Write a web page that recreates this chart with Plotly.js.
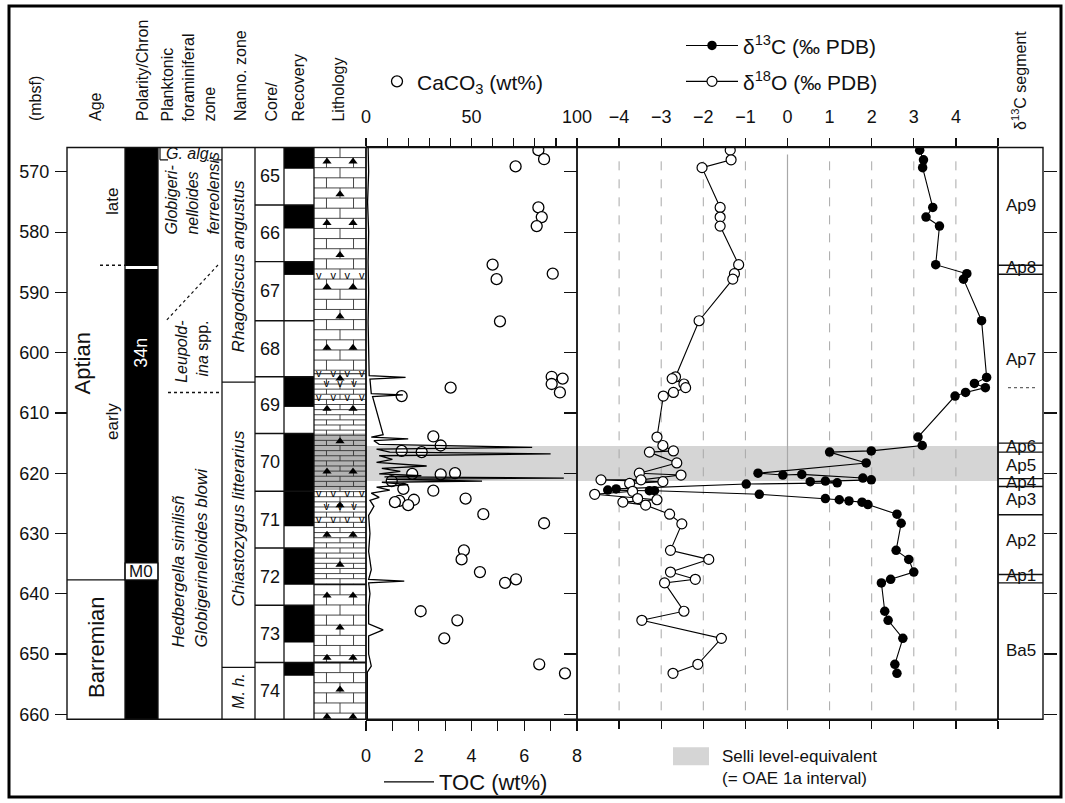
<!DOCTYPE html>
<html><head><meta charset="utf-8">
<script src="https://cdn.plot.ly/plotly-3.0.1.min.js"></script>
<style>html,body{margin:0;padding:0;background:#fff;}#chart{width:1065px;height:803px;}</style>
</head><body><div id="chart"></div>
<script>
// ================= DATA =================
// delta13C (per mil PDB) vs depth (mbsf)
const d13cDepth = [566.4,568.0,569.3,575.9,577.5,579.0,585.4,586.9,587.8,594.7,604.1,605.1,605.8,606.6,607.2,614.0,615.4,616.3,616.5,618.3,620.0,620.3,620.2,620.8,621.1,621.4,621.3,621.6,621.8,622.6,622.8,622.9,622.9,623.5,624.2,624.4,624.6,624.8,625.2,626.8,628.3,632.8,634.3,636.4,637.6,638.2,642.9,644.4,647.4,651.7,653.2];
const d13cValue = [3.14,3.23,3.21,3.45,3.29,3.61,3.52,4.26,4.18,4.61,4.73,4.44,4.70,4.23,3.98,3.10,3.20,1.99,1.00,1.87,-0.70,-0.11,0.34,1.79,1.99,0.54,0.90,1.18,-0.98,-4.07,-4.27,-3.28,-3.16,-0.67,0.90,1.23,1.46,1.77,1.91,2.60,2.70,2.58,2.88,3.00,2.45,2.23,2.31,2.39,2.74,2.55,2.60];
// delta18O (per mil PDB) vs depth (mbsf)
const d18oDepth = [566.4,568.0,569.3,575.9,577.5,579.0,585.4,586.9,587.8,594.7,604.0,604.3,605.2,605.8,606.6,607.2,614.0,615.4,616.3,616.5,618.3,620.0,620.3,621.1,621.1,621.4,621.7,623.0,623.5,624.2,624.4,624.8,625.3,626.8,628.4,632.8,634.3,636.4,637.6,638.2,642.9,644.4,647.4,651.7,653.2];
const d18oValue = [-1.36,-1.34,-2.03,-1.60,-1.60,-1.60,-1.16,-1.26,-1.30,-2.10,-2.66,-2.74,-2.46,-2.42,-2.71,-2.95,-3.10,-2.96,-2.71,-3.28,-2.63,-3.52,-2.53,-3.48,-4.43,-2.96,-3.75,-3.68,-4.58,-3.56,-3.10,-3.91,-3.37,-2.80,-2.51,-2.78,-1.87,-2.78,-2.19,-2.92,-2.46,-3.46,-1.57,-2.13,-2.72];
// CaCO3 (wt%)
const caco3Depth = [566.4,567.9,569.1,575.9,577.5,579.0,585.4,586.9,587.8,594.8,604.0,604.3,605.2,605.8,606.6,607.2,613.9,615.4,616.3,616.5,620.0,620.1,620.2,621.3,622.6,622.9,624.2,624.4,624.6,624.8,625.3,626.8,628.3,632.8,634.3,636.4,637.6,638.2,642.9,644.4,647.4,651.7,653.2];
const caco3Value = [81.7,84.4,70.9,81.7,83.3,80.9,60.0,88.5,61.9,63.5,88.0,93.2,88.0,40.1,91.9,16.9,31.9,35.4,16.9,26.4,42.2,21.9,35.4,12.2,17.7,31.9,47.2,22.7,15.8,13.7,20.0,55.6,84.4,46.4,45.3,54.0,71.1,65.9,25.9,43.3,37.1,82.1,94.3];
// TOC (wt%)
const tocDepth = [565.95,570,575,580,585,590,595,600,603.8,604.1,604.4,606.8,607.0,607.3,613.6,614.0,614.3,614.6,615.2,615.7,616.0,616.5,616.8,617.1,617.7,618.2,618.8,619.2,619.7,620.1,620.4,620.6,620.8,621.0,621.3,621.5,621.9,622.3,622.8,623.3,624.0,624.5,625.5,627.0,630,633,636,637.6,637.9,638.2,640,642,645.0,646.0,647.0,650,652,653,660.8];
const tocValue = [0.08,0.1,0.06,0.1,0.08,0.1,0.08,0.1,0.12,1.5,0.15,0.2,1.4,0.25,0.65,0.2,1.6,0.3,0.5,6.3,0.4,0.9,7.0,0.5,1.0,0.4,2.3,0.6,1.3,0.5,2.1,0.7,7.5,0.8,4.4,0.6,1.6,0.4,0.9,0.2,0.5,0.15,0.3,0.1,0.15,0.1,0.2,0.1,1.45,0.1,0.15,0.1,0.1,0.65,0.1,0.1,0.2,0.05,0.05];

// Core / recovery
const coreLabels = ['65','66','67','68','69','70','71','72','73','74'];
const coreTop    = [565.95,575.5,584.9,594.7,604.0,613.4,623.0,632.4,641.9,651.4];
const coreBase   = [575.5,584.9,594.7,604.0,613.4,623.0,632.4,641.9,651.4,660.83];
const recoveredBase = [569.5,579.4,587.1,594.7,609.0,623.0,628.8,638.5,648.1,653.6];

// Polarity (normal = black)
const normalTop  = [565.95,586.1,637.7];
const normalBase = [585.6,634.9,660.83];

// d13C segments
const segBoundary = [585.5,587.0,615.0,616.5,620.9,622.2,626.9,636.8,638.2];
const segLabels = ['Ap9','Ap8','Ap7','Ap6','Ap5','Ap4','Ap3','Ap2','Ap1','Ba5'];
const segLabelDepth = [575.6,585.9,601.1,615.5,618.8,621.6,624.4,631.2,637.0,649.4];

// Lithology
const lithTop  = [565.95,603.5,638.5,651.4];
const lithBase = [603.5,638.5,651.4,660.83];
const lithKind = ['limestone','marl','limestone','limestone'];
const chertDepth = [568.3,573.7,578.5,583.8,589.1,594.0,599.2,604.3,609.3,614.7,619.7,625.3,630.2,635.2,640.3,645.6,650.6,655.9,660.4];
const chertCount = [2,1,2,1,2,1,2,1,2,1,2,1,2,1,2,1,2,1,2];
const tuffDepth = [587.4,603.5,605.3,607.6,623.5,625.6,627.8];
const tuffCount = [4,4,3,4,4,3,4];

// Selli level equivalent (OAE 1a)
const selliTop = 615.5, selliBase = 621.3;
const greyLithTop = 613.4, greyLithBase = 622.8;

// axis ticks
const depthTicks = [570,580,590,600,610,620,630,640,650,660];
const caLabelTicks = [0,50,100];
const caMinorTicks = [10,20,30,40,60,70,80,90];
const tocLabelTicks = [0,2,4,6,8];
const tocMinorTicks = [1,3,5,7];
const isoLabelTicks = [-4,-3,-2,-1,0,1,2,3,4];
const isoEdgeTicks = [-5,5];

// ================= LAYOUT HELPERS =================
const W = 1065, H = 803;
const px = x => x / W;
const py = y => 1 - y / H;
const DTOP = 565.95, DBOT = 660.83;
const INK = '#111';
const FONT = 'Liberation Sans, Arial, Helvetica, sans-serif';

const shapes = [];
const annotations = [];
function rectP(x0, y0, x1, y1, o) { shapes.push(Object.assign({type:'rect', xref:'paper', yref:'paper', x0:px(x0), x1:px(x1), y0:py(y0), y1:py(y1), line:{color:INK, width:1.3}, fillcolor:'rgba(0,0,0,0)'}, o||{})); }
function rectD(x0, x1, d0, d1, o) { shapes.push(Object.assign({type:'rect', xref:'paper', yref:'y', x0:px(x0), x1:px(x1), y0:d0, y1:d1, line:{width:0}, fillcolor:INK}, o||{})); }
function lineD(x0, x1, d0, d1, o) { shapes.push(Object.assign({type:'line', xref:'paper', yref:'y', x0:px(x0), x1:px(x1), y0:d0, y1:d1, line:{color:INK, width:1.2}}, o||{})); }
function lineP(x0, y0, x1, y1, o) { shapes.push(Object.assign({type:'line', xref:'paper', yref:'paper', x0:px(x0), x1:px(x1), y0:py(y0), y1:py(y1), line:{color:INK, width:1.2}}, o||{})); }
function annP(text, x, y, o) { annotations.push(Object.assign({text, xref:'paper', yref:'paper', x:px(x), y:py(y), showarrow:false, xanchor:'center', yanchor:'middle', font:{size:16, color:INK, family:FONT}}, o||{})); }
function annD(text, x, d, o) { annotations.push(Object.assign({text, xref:'paper', yref:'y', x:px(x), y:d, showarrow:false, xanchor:'center', yanchor:'middle', font:{size:16, color:INK, family:FONT}}, o||{})); }

// column x-positions (px)
const C = {age0:67, pol0:125, pf0:158, nn0:222, core0:255, rec0:284, lit0:314, lit1:366, iso0:577, iso1:998, seg1:1043};

// outer frame
rectP(9, 6, 1061, 800, {line:{color:'#000', width:3}});

// Selli band + grey lithology
rectD(C.lit1, C.iso1, selliTop, selliBase, {fillcolor:'#d5d5d5', layer:'below'});
rectD(C.lit0, C.lit1, greyLithTop, greyLithBase, {fillcolor:'#b3b3b3', layer:'below'});

// isotope grid lines
isoLabelTicks.forEach(v => {
  shapes.push({type:'line', xref:'x3', yref:'paper', x0:v, x1:v, y0:py(713), y1:py(155), layer:'below',
    line: v === 0 ? {color:'#a8a8a8', width:1.2} : {color:'#a8a8a8', width:1, dash:'dash'}});
});

// polarity
normalTop.forEach((t, i) => rectD(C.pol0, C.pf0, t, normalBase[i], {fillcolor:'#000'}));
rectD(C.pol0, C.pf0, 634.9, 637.7, {fillcolor:'#fff', line:{color:INK, width:1.2}});
annD('34n', 141, 600, {textangle:-90, font:{size:18, color:'#fff', family:FONT}});
annD('M0', 141, 636.3, {font:{size:17, color:INK, family:FONT}});

// recovery
coreTop.forEach((t, i) => { if (recoveredBase[i] > t) rectD(C.rec0, C.lit0, t, recoveredBase[i], {fillcolor:'#000'}); });
// core boundaries + labels
coreTop.forEach((t, i) => {
  if (i > 0) lineD(C.core0, C.lit0, t, t, {line:{color:INK, width:1.4}});
  annD(coreLabels[i], 270, (t + coreBase[i]) / 2, {font:{size:18, color:INK, family:FONT}});
});

// Age column
lineD(C.age0, C.pol0, 637.7, 637.7);
lineD(100, C.pol0, 585.5, 585.5, {line:{color:INK, width:1.4, dash:'dot'}});
annD('Aptian', 83, 601.8, {textangle:-90, font:{size:22, color:INK, family:FONT}});
annD('late', 113, 575, {textangle:-90, font:{size:17, color:INK, family:FONT}});
annD('early', 113, 611.5, {textangle:-90, font:{size:17, color:INK, family:FONT}});
annD('Barremian', 97, 649, {textangle:-90, font:{size:22, color:INK, family:FONT}});

// Planktonic foraminiferal zones
lineD(160, 168, 568, 568);
lineD(213, C.nn0, 568, 568);
lineD(160, 160, 566.0, 568);
annD('<i>G. alg.</i>', 189, 566.95, {font:{size:16, color:INK, family:FONT}});
annP('<i>Globigeri-<br>nelloides<br>ferreolensis</i>', 193, 238, {textangle:-90, align:'left', yanchor:'bottom', font:{size:16, color:INK, family:FONT}});
annP('<i>Leupold-<br>ina</i> spp.', 192, 320, {textangle:-90, align:'right', yanchor:'top', font:{size:16, color:INK, family:FONT}});
annP('<i>Hedbergella similisñ<br>Globigerinelloides blowi</i>', 190, 652, {textangle:-90, align:'left', yanchor:'bottom', font:{size:17, color:INK, family:FONT}});
lineP(218, 266, 166, 322, {line:{color:INK, width:1.2, dash:'dot'}});
lineP(168, 394, 219, 394, {line:{color:INK, width:1.4, dash:'dot'}});

// Nannofossil zones
lineD(C.nn0, C.core0, 604.9, 604.9);
lineD(C.nn0, C.core0, 652.2, 652.2);
annD('<i>Rhagodiscus angustus</i>', 238.5, 585.6, {textangle:-90, font:{size:17, color:INK, family:FONT}});
annD('<i>Chiastozygus litterarius</i>', 238.5, 627.6, {textangle:-90, font:{size:17, color:INK, family:FONT}});
annD('<i>M. h.</i>', 238.5, 656.2, {textangle:-90, font:{size:16, color:INK, family:FONT}});

// lithology unit boundaries
lithTop.forEach((t, i) => { if (i > 0) lineD(C.lit0, C.lit1, t, t, {line:{color:INK, width: t === 651.4 ? 2 : 1.2}}); });

// column frames
rectP(C.age0, 148, C.lit1, 722, {line:{color:INK, width:1.4}});
[C.pol0, C.pf0, C.nn0, C.core0, C.rec0, C.lit0].forEach(x => lineP(x, 148, x, 722, {line:{color:INK, width:1.3}}));
// panels
rectP(C.lit1, 148, C.iso0, 722, {line:{color:INK, width:1.4}});
rectP(C.iso0, 148, C.iso1, 722, {line:{color:INK, width:1.4}});
rectP(C.iso1, 148, C.seg1, 722, {line:{color:INK, width:1.4}});

// d13C segments
segBoundary.forEach(b => lineD(C.iso1, C.seg1, b, b, {line:{color:INK, width:1.4}}));
lineD(1008, 1036, 605.8, 605.8, {line:{color:'#666', width:1.2, dash:'dot'}});
segLabels.forEach((s, i) => annD(s, 1020.5, segLabelDepth[i], {font:{size:17, color:INK, family:FONT}}));

// header labels
const hdr = (t, x, o) => annP(t, x, 124, Object.assign({textangle:-90, yanchor:'bottom', font:{size:16, color:INK, family:FONT}}, o||{}));
hdr('(mbsf)', 35);
hdr('Age', 95);
hdr('Polarity/Chron', 142);
hdr('Planktonic<br>foraminiferal<br>zone', 189, {align:'left'});
hdr('Nanno. zone', 240);
hdr('Core/', 272);
hdr('Recovery', 299);
hdr('Lithology', 339);
annP('δ<sup>13</sup>C segment', 1019, 133, {textangle:-90, yanchor:'bottom'});

// Selli legend
rectP(673, 750, 709, 768, {fillcolor:'#d5d5d5', line:{width:0}});
annP('Selli level-equivalent<br>(= OAE 1a interval)', 720, 770, {xanchor:'left', align:'left', font:{size:17, color:INK, family:FONT}});

// ================= TRACES =================
const traces = [];
// lithology texture (unit 0-1 x scale spanning the lithology column)
const lx = [], ly = [];
function seg(x0, x1, d0, d1) { lx.push(x0, x1, null); ly.push(d0, d1, null); }
lithTop.forEach((t, i) => {
  const b = lithBase[i];
  const h = lithKind[i] === 'marl' ? 0.85 : 1.68;
  let k = 0;
  for (let d = t; d < b - 0.05; d += h, k++) {
    const e = Math.min(d + h, b);
    if (d > t + 0.01) seg(0, 1, d, d);
    if (k % 2 === 0) seg(0.5, 0.5, d, e); else { seg(0.24, 0.24, d, e); seg(0.76, 0.76, d, e); }
  }
});
traces.push({type:'scatter', mode:'lines', x:lx, y:ly, xaxis:'x4', yaxis:'y', line:{color:'#333', width:0.9}, hoverinfo:'skip', showlegend:false, connectgaps:false});
// chert triangles
const cx = [], cy = [];
chertDepth.forEach((d, i) => { if (chertCount[i] === 2) { cx.push(0.25, 0.75); cy.push(d, d); } else { cx.push(0.5); cy.push(d); } });
traces.push({type:'scatter', mode:'markers', x:cx, y:cy, xaxis:'x4', yaxis:'y', marker:{symbol:'triangle-up', size:8, color:'#000'}, hoverinfo:'skip', showlegend:false});
// volcanic ash marks
const vx = [], vy = [];
tuffDepth.forEach((d, i) => { const xs = tuffCount[i] === 4 ? [0.09, 0.37, 0.64, 0.92] : [0.24, 0.5, 0.77]; xs.forEach(x => { vx.push(x); vy.push(d); }); });
traces.push({type:'scatter', mode:'text', x:vx, y:vy, text:vx.map(() => 'v'), xaxis:'x4', yaxis:'y', textfont:{size:11, color:'#000', family:FONT}, hoverinfo:'skip', showlegend:false});

// TOC
traces.push({type:'scatter', mode:'lines', name:'TOC (wt%)', x:tocValue, y:tocDepth, xaxis:'x2', yaxis:'y', line:{color:'#000', width:1.3}, legend:'legend4', hoverinfo:'skip'});
// CaCO3
traces.push({type:'scatter', mode:'markers', name:'CaCO<sub>3</sub> (wt%)', x:caco3Value, y:caco3Depth, xaxis:'x', yaxis:'y', marker:{symbol:'circle', size:11, color:'#fff', line:{color:'#000', width:1.3}}, legend:'legend3', hoverinfo:'skip'});
// isotopes
traces.push({type:'scatter', mode:'lines+markers', name:'δ<sup>13</sup>C (‰ PDB)', x:d13cValue, y:d13cDepth, xaxis:'x3', yaxis:'y', line:{color:'#000', width:1.1}, marker:{symbol:'circle', size:9.5, color:'#000'}, legend:'legend', hoverinfo:'skip'});
traces.push({type:'scatter', mode:'lines+markers', name:'δ<sup>18</sup>O (‰ PDB)', x:d18oValue, y:d18oDepth, xaxis:'x3', yaxis:'y', line:{color:'#000', width:1.1}, marker:{symbol:'circle', size:10, color:'#fff', line:{color:'#000', width:1.2}}, legend:'legend2', hoverinfo:'skip'});
// helper traces so that the tick-only depth axes get drawn
traces.push({type:'scatter', mode:'markers', x:[], y:[], xaxis:'x3', yaxis:'y2', showlegend:false, hoverinfo:'skip'});
traces.push({type:'scatter', mode:'markers', x:[], y:[], xaxis:'x3', yaxis:'y3', showlegend:false, hoverinfo:'skip'});

const axisBase = {ticks:'outside', tickcolor:INK, tickwidth:1.2, showline:true, linecolor:INK, linewidth:1.4, showgrid:false, zeroline:false, fixedrange:true, tickfont:{size:18, color:INK, family:FONT}};
const minorOf = (vals, len) => ({tickmode:'array', tickvals:vals, ticks:'outside', ticklen:len, tickwidth:1.2, tickcolor:INK, showgrid:false});

const layout = {
  width: W, height: H,
  margin: {l:0, r:0, t:0, b:0},
  paper_bgcolor: '#fff', plot_bgcolor: 'rgba(0,0,0,0)',
  font: {family: FONT, size: 16, color: INK},
  xaxis: Object.assign({}, axisBase, {domain:[px(C.lit1), px(C.iso0)], range:[0,100], side:'top', anchor:'y', tickmode:'array', tickvals:caLabelTicks, ticklen:8, ticklabelstandoff:8, minor:minorOf(caMinorTicks, 8)}),
  xaxis2: Object.assign({}, axisBase, {overlaying:'x', domain:[px(C.lit1), px(C.iso0)], range:[0,8], side:'bottom', anchor:'y', tickmode:'array', tickvals:tocLabelTicks, ticklen:10, ticklabelstandoff:10, minor:minorOf(tocMinorTicks, 10)}),
  xaxis3: Object.assign({}, axisBase, {domain:[px(C.iso0), px(C.iso1)], range:[-5,5], side:'top', anchor:'y', mirror:'ticks', tickmode:'array', tickvals:isoLabelTicks, ticklen:8, ticklabelstandoff:8, minor:minorOf(isoEdgeTicks, 8)}),
  xaxis4: {domain:[px(C.lit0), px(C.lit1)], range:[0,1], anchor:'y', visible:false, fixedrange:true},
  yaxis: Object.assign({}, axisBase, {domain:[py(722), py(148)], range:[DBOT, DTOP], anchor:'free', position:px(C.age0), side:'left', showline:false, tickmode:'array', tickvals:depthTicks, ticklen:12, ticklabelstandoff:2}),
  yaxis2: Object.assign({}, axisBase, {overlaying:'y', matches:'y', anchor:'free', position:px(C.seg1), side:'right', showline:false, tickmode:'array', tickvals:depthTicks, ticklen:13, showticklabels:false}),
  yaxis3: Object.assign({}, axisBase, {overlaying:'y', matches:'y', anchor:'free', position:px(C.iso0), side:'left', showline:false, tickmode:'array', tickvals:depthTicks, ticklen:13, showticklabels:false}),
  legend:  {x:px(681), y:py(46), xanchor:'left', yanchor:'middle', bgcolor:'rgba(0,0,0,0)', font:{size:21, color:INK, family:FONT}, itemwidth:52},
  legend2: {x:px(681), y:py(82), xanchor:'left', yanchor:'middle', bgcolor:'rgba(0,0,0,0)', font:{size:21, color:INK, family:FONT}, itemwidth:52},
  legend3: {x:px(377), y:py(82), xanchor:'left', yanchor:'middle', bgcolor:'rgba(0,0,0,0)', font:{size:21, color:INK, family:FONT}, itemwidth:30},
  legend4: {x:px(379), y:py(785), xanchor:'left', yanchor:'middle', bgcolor:'rgba(0,0,0,0)', font:{size:22, color:INK, family:FONT}, itemwidth:50},
  shapes, annotations,
  hovermode: false
};

Plotly.newPlot('chart', traces, layout, {staticPlot:true, displayModeBar:false});
</script>
</body></html>
